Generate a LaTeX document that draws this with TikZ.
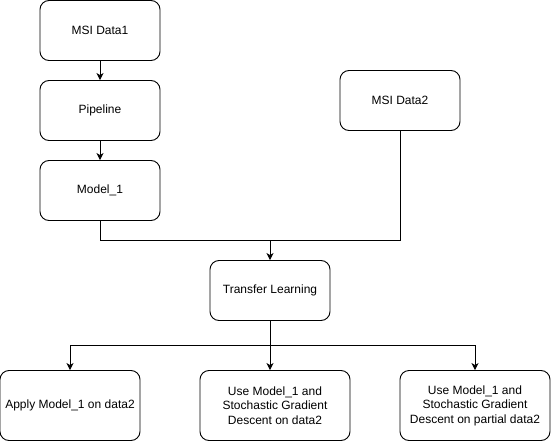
\documentclass[tikz,border=0pt]{standalone}
\usepackage{fontspec}
\setmainfont{Liberation Sans}
\usetikzlibrary{arrows.meta}
\begin{document}
\begin{tikzpicture}[x=1pt,y=-1pt,
  box/.style={draw,rounded corners=9pt,line width=0.9pt,inner sep=0pt,align=center,font=\fontsize{12}{14.5}\selectfont},
  conn/.style={line width=0.9pt},
  arr/.style={conn,-{Stealth[length=7pt,width=7pt,inset=2pt]}}]
\useasboundingbox (0,0) rectangle (551,441);
\node[box,minimum width=120pt,minimum height=60pt] (d1) at (100,30.5) {MSI Data1};
\node[box,minimum width=120pt,minimum height=60pt] (pl) at (100,110.5) {Pipeline};
\node[box,minimum width=120pt,minimum height=60pt] (m1) at (100,190.5) {Model\_1};
\node[box,minimum width=120pt,minimum height=60pt] (d2) at (400,100.5) {MSI Data2};
\node[box,minimum width=120pt,minimum height=60pt] (tl) at (270,290.5) {Transfer Learning};
\node[box,minimum width=140pt,minimum height=70pt] (a1) at (70,405.5) {Apply Model\_1 on data2};
\node[box,minimum width=150pt,minimum height=70pt] (a2) at (275,405.5) {Use Model\_1 and\\Stochastic Gradient\\Descent on data2};
\node[box,minimum width=150pt,minimum height=70pt] (a3) at (475,405.5) {Use Model\_1 and\\Stochastic Gradient\\Descent on partial data2};
\coordinate (j1) at (270,240.5);
\coordinate (j2) at (270,345.5);
\draw[arr] (d1) -- (pl);
\draw[arr] (pl) -- (m1);
\draw[conn] (m1.south) |- (j1) -| (d2.south);
\draw[arr] (j1) -- (tl.north);
\draw[conn] (tl.south) -- (j2);
\draw[arr] (j2) -| (a1.north);
\draw[arr] (j2) -| (a3.north);
\draw[arr] (j2) -- (j2 |- a2.north);
\end{tikzpicture}
\end{document}
